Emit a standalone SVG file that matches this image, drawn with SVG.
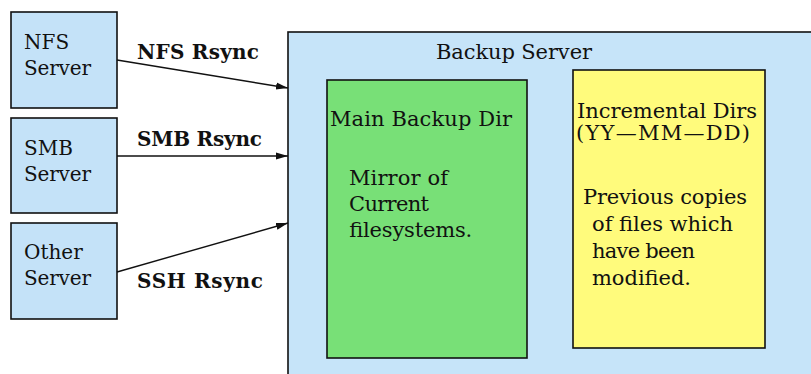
<svg xmlns="http://www.w3.org/2000/svg" width="811" height="374" viewBox="0 0 811 374">
  <style>
    .box { stroke: #111; stroke-width: 1.6; }
    .src { fill: #c4e2f8; }
    .srv { fill: #c6e4f9; }
    .main { fill: #78e077; }
    .inc { fill: #fffb7c; }
    .t { font-family: "DejaVu Serif", "Liberation Serif", serif; font-size: 21px; fill: #111; }
    .n { font-family: "DejaVu Serif", "Liberation Serif", serif; font-size: 20px; fill: #111; }
    .lbl { font-family: "DejaVu Serif", "Liberation Serif", serif; font-size: 20px; font-weight: bold; fill: #111; }
    .edge { stroke: #111; stroke-width: 1.4; fill: none; marker-end: url(#arrow); }
  </style>
  <defs>
    <marker id="arrow" markerUnits="userSpaceOnUse" markerWidth="13" markerHeight="9" refX="12" refY="4.5" orient="auto">
      <path d="M0,1 L12,4.5 L0,8 Z" fill="#111"/>
    </marker>
  </defs>
  <rect width="811" height="374" fill="#ffffff"/>

  <!-- backup server container -->
  <g id="backup-server">
    <rect class="box srv" x="288" y="32" width="540" height="360"/>
    <text class="t" x="436" y="59" textLength="156" lengthAdjust="spacing">Backup Server</text>
  </g>

  <g id="main-backup-dir">
    <rect class="box main" x="327" y="80" width="200" height="278"/>
    <text class="t" x="330" y="126" textLength="182" lengthAdjust="spacing">Main Backup Dir</text>
    <text class="t" x="349" y="185" textLength="99" lengthAdjust="spacing">Mirror of</text>
    <text class="t" x="349" y="211" textLength="80" lengthAdjust="spacing">Current</text>
    <text class="t" x="349" y="237" textLength="123" lengthAdjust="spacing">filesystems.</text>
  </g>

  <g id="incremental-dirs">
    <rect class="box inc" x="573" y="70" width="192" height="278"/>
    <text class="t" x="577" y="118" textLength="180" lengthAdjust="spacing">Incremental Dirs</text>
    <text class="t" x="576" y="140" textLength="174" lengthAdjust="spacing">(YY—MM—DD)</text>
    <text class="t" x="583" y="204" textLength="164" lengthAdjust="spacing">Previous copies</text>
    <text class="t" x="592" y="231" textLength="141" lengthAdjust="spacing">of files which</text>
    <text class="t" x="592" y="258" textLength="103" lengthAdjust="spacing">have been</text>
    <text class="t" x="592" y="285" textLength="99" lengthAdjust="spacing">modified.</text>
  </g>

  <!-- source servers -->
  <g id="nfs-server">
    <rect class="box src" x="11" y="12" width="106" height="96"/>
    <text class="n" x="24" y="49">NFS</text>
    <text class="n" x="24" y="75" textLength="67" lengthAdjust="spacing">Server</text>
  </g>
  <g id="smb-server">
    <rect class="box src" x="11" y="118" width="106" height="95"/>
    <text class="n" x="24" y="155">SMB</text>
    <text class="n" x="24" y="181" textLength="67" lengthAdjust="spacing">Server</text>
  </g>
  <g id="other-server">
    <rect class="box src" x="11" y="223" width="106" height="96"/>
    <text class="n" x="24" y="259">Other</text>
    <text class="n" x="24" y="285" textLength="67" lengthAdjust="spacing">Server</text>
  </g>

  <!-- rsync connectors -->
  <g id="connectors">
    <line class="edge" x1="117" y1="60" x2="288" y2="88"/>
    <line class="edge" x1="117" y1="156" x2="288" y2="156"/>
    <line class="edge" x1="117" y1="272" x2="288" y2="223"/>
    <text class="lbl" x="137" y="59" textLength="122" lengthAdjust="spacing">NFS Rsync</text>
    <text class="lbl" x="137" y="146" textLength="125" lengthAdjust="spacing">SMB Rsync</text>
    <text class="lbl" x="137" y="288" textLength="126" lengthAdjust="spacing">SSH Rsync</text>
  </g>
</svg>
